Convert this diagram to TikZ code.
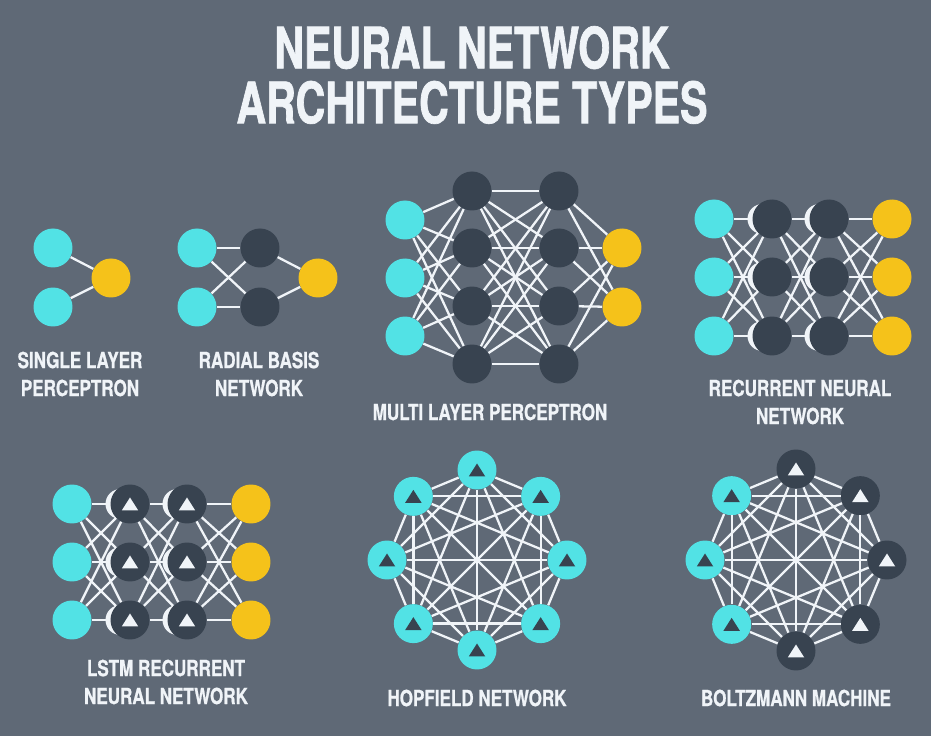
\documentclass[tikz,border=0pt]{standalone}
\usepackage{fontspec}
\usepackage{tikz}
\newfontfamily\titlefont[FakeStretch=0.72, FakeBold=1.2]{TeX Gyre Heros}
\newfontfamily\labelfont[FakeStretch=0.77, FakeBold=0.8]{TeX Gyre Heros}
\definecolor{nnbg}{RGB}{95,105,118}
\definecolor{nncyan}{RGB}{82,226,229}
\definecolor{nnyellow}{RGB}{245,194,26}
\definecolor{nndark}{RGB}{56,67,80}
\definecolor{nnwhite}{RGB}{240,244,248}
\tikzset{
  unit/.style={circle, minimum size=0.78cm, inner sep=0pt},
  inpnode/.style={unit, fill=nncyan},
  outnode/.style={unit, fill=nnyellow},
  hidnode/.style={unit, fill=nndark},
  tri/.style={path picture={\fill[#1] (path picture bounding box.center) ++(0cm,0.13cm) -- ++(-0.165cm,-0.26cm) -- ++(0.33cm,0cm) -- cycle;}},
  link/.style={draw=nnwhite, line width=1.3pt},
  caption/.style={text=nnwhite, align=center, font=\labelfont\bfseries\fontsize{12.6}{15.9}\selectfont},
}

\begin{document}
\begin{tikzpicture}[x=0.02cm, y=-0.02cm]
    \fill[nnbg] (0,0) rectangle (931,736);
    \useasboundingbox (0,0) rectangle (931,736);
    %--- title ---
    \node[text=nnwhite, align=center, font=\titlefont\bfseries\fontsize{32.5}{31.2}\selectfont] (title) at (472,75) {NEURAL NETWORK\\ARCHITECTURE TYPES};
    %--- single layer perceptron ---
    \node[inpnode] (s1) at (53,248) {};
    \node[inpnode] (s2) at (53,307) {};
    \node[outnode] (so) at (111,278) {};
    \foreach \a in {s1,s2} \draw[link] (\a) -- (so);
    \node[caption] (slp) at (80,374) {SINGLE LAYER\\PERCEPTRON};
    %--- radial basis network ---
    \node[inpnode] (b1) at (197,248) {};
    \node[inpnode] (b2) at (197,307) {};
    \node[hidnode] (c1) at (260,248) {};
    \node[hidnode] (c2) at (260,307) {};
    \node[outnode] (bo) at (318,278) {};
    \foreach \a in {b1,b2} \foreach \b in {c1,c2} \draw[link] (\a) -- (\b);
    \foreach \b in {c1,c2} \draw[link] (\b) -- (bo);
    \node[caption] (rbn) at (259,374) {RADIAL BASIS\\NETWORK};
    %--- multi layer perceptron ---
    \foreach \y [count=\i] in {220,278,336} \node[inpnode] (m\i) at (405,\y) {};
    \foreach \y [count=\i] in {191,248,306,364} {
      \node[hidnode] (p\i) at (472,\y) {};
      \node[hidnode] (q\i) at (559,\y) {};
    }
    \foreach \y [count=\i] in {248,307} \node[outnode] (mo\i) at (622,\y) {};
    \foreach \a in {1,2,3} \foreach \b in {1,...,4} \draw[link] (m\a) -- (p\b);
    \foreach \a in {1,...,4} \foreach \b in {1,...,4} \draw[link] (p\a) -- (q\b);
    \foreach \a in {1,...,4} \foreach \b in {1,2} \draw[link] (q\a) -- (mo\b);
    \node[caption] (mlp) at (490,412) {MULTI LAYER PERCEPTRON};
    %--- recurrent neural network ---
    \foreach \y [count=\i] in {219,277,336} {
      \node[inpnode] (r\i) at (714,\y) {};
      \fill[nnwhite] (762.5,\y) circle (0.3cm);
      \node[hidnode] (rh\i) at (772,\y) {};
      \fill[nnwhite] (819.5,\y) circle (0.3cm);
      \node[hidnode] (rk\i) at (829,\y) {};
      \node[outnode] (ro\i) at (892,\y) {};
    }
    \foreach \a in {1,2,3} \foreach \b in {1,2,3} {
      \draw[link] (r\a) -- (rh\b);
      \draw[link] (rh\a) -- (rk\b);
      \draw[link] (rk\a) -- (ro\b);
    }
    \node[caption] (rnn) at (800,402) {RECURRENT NEURAL\\NETWORK};
    %--- lstm recurrent neural network ---
    \foreach \y [count=\i] in {504,562,620} {
      \node[inpnode] (l\i) at (72,\y) {};
      \fill[nnwhite] (120.5,\y) circle (0.3cm);
      \node[hidnode, tri=nnwhite] (lh\i) at (130,\y) {};
      \fill[nnwhite] (177.5,\y) circle (0.3cm);
      \node[hidnode, tri=nnwhite] (lk\i) at (187,\y) {};
      \node[outnode] (lo\i) at (251,\y) {};
    }
    \foreach \a in {1,2,3} \foreach \b in {1,2,3} {
      \draw[link] (l\a) -- (lh\b);
      \draw[link] (lh\a) -- (lk\b);
      \draw[link] (lk\a) -- (lo\b);
    }
    \node[caption] (lstm) at (166,682) {LSTM RECURRENT\\NEURAL NETWORK};
    %--- hopfield network ---
    \begin{scope}[shift={(477,560)}, y=0.02cm]
      \foreach \i in {0,...,7} \node[inpnode, tri=nndark] (h\i) at ({90+45*\i}:90) {};
    \end{scope}
    \foreach \i in {0,...,6} {
      \pgfmathtruncatemacro\nxt{\i+1}
      \foreach \j in {\nxt,...,7} \draw[link] (h\i) -- (h\j);
    }
    \node[caption] (hop) at (477,698) {HOPFIELD NETWORK};
    %--- boltzmann machine ---
    \begin{scope}[shift={(796,560)}, y=0.02cm]
      \foreach \f/\t [count=\i from 0] in {nndark/nnwhite, nncyan/nndark, nncyan/nndark, nncyan/nndark, nndark/nnwhite, nndark/nnwhite, nndark/nnwhite, nndark/nnwhite}
        \node[unit, fill=\f, tri=\t] (z\i) at ({90+45*\i}:91) {};
    \end{scope}
    \foreach \i in {0,...,6} {
      \pgfmathtruncatemacro\nxt{\i+1}
      \foreach \j in {\nxt,...,7} \draw[link] (z\i) -- (z\j);
    }
    \node[caption] (boltz) at (796,698) {BOLTZMANN MACHINE};
\end{tikzpicture}
\end{document}
